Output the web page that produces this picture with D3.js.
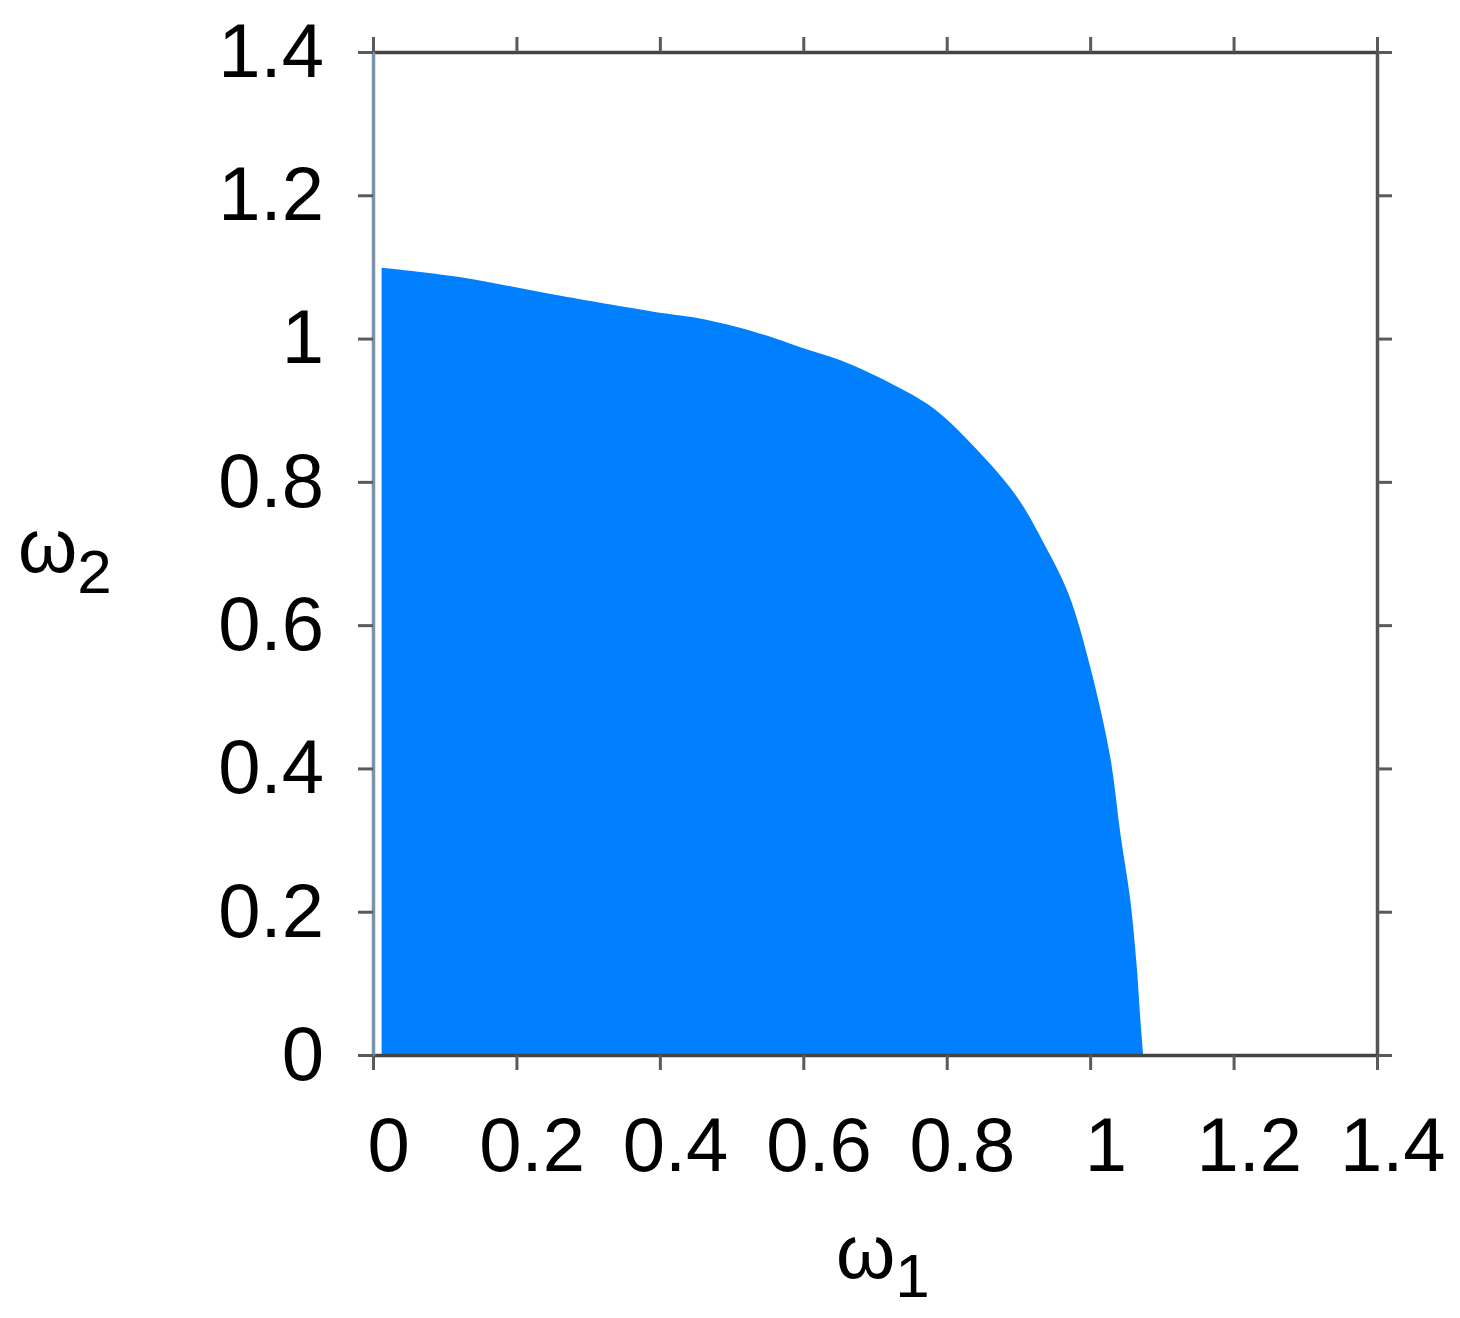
<!DOCTYPE html>
<html>
<head>
<meta charset="utf-8">
<script src="https://cdn.jsdelivr.net/npm/d3@7"></script>
<style>
  body { margin: 0; background: #fff; }
  text { font-family: "Liberation Sans", Arial, sans-serif; fill: #000; }
</style>
</head>
<body>
<div id="chart"></div>
<script>
// boundary of the stable region
var omega1 = [0.012, 0.12, 0.26, 0.40, 0.456, 0.53, 0.596, 0.651, 0.721, 0.781, 0.842, 0.898, 0.935, 0.970, 1.0, 1.028, 1.042, 1.056, 1.065, 1.070, 1.074];
var omega2 = [1.099, 1.086, 1.060, 1.036, 1.028, 1.010, 0.988, 0.970, 0.938, 0.903, 0.845, 0.779, 0.715, 0.643, 0.542, 0.416, 0.310, 0.216, 0.123, 0.05, 0.0];
var tickVals = [0, 0.2, 0.4, 0.6, 0.8, 1, 1.2, 1.4];

var svgWidth = 1460;
var svgHeight = 1318;

var margin = { top: 52, right: 83, bottom: 263, left: 373 };
var width = svgWidth - margin.left - margin.right;
var height = svgHeight - margin.top - margin.bottom;

var svg = d3.select("#chart")
  .append("svg")
  .attr("width", svgWidth)
  .attr("height", svgHeight);

var chartGroup = svg.append("g")
  .attr("transform", `translate(${margin.left}, ${margin.top})`);

var xScale = d3.scaleLinear().domain([0, 1.4]).range([0, width]);
var yScale = d3.scaleLinear().domain([0, 1.4]).range([height, 0]);

var pts = omega1.map((d, i) => [d, omega2[i]]);

var area = d3.area()
  .x(d => xScale(d[0]))
  .y0(yScale(0))
  .y1(d => yScale(d[1]))
  .curve(d3.curveCatmullRom.alpha(0.5));

chartGroup.append("path")
  .datum(pts)
  .attr("d", area)
  .attr("fill", "#0080ff");

var fmt = d => (d === 0 || d === 1) ? String(d) : d.toFixed(1);

function styleAxis(g, domainColor) {
  g.select(".domain").attr("stroke", domainColor).attr("stroke-width", 3.5);
  g.selectAll(".tick line").attr("stroke", "#5a5a5a").attr("stroke-width", 3);
  g.selectAll(".tick text")
    .style("font-size", "76px")
    .style("font-family", "'Liberation Sans', Arial, sans-serif")
    .attr("fill", "#000");
}

// top and right frame
chartGroup.append("g")
  .call(d3.axisTop(xScale).tickValues(tickVals).tickSize(15).tickSizeOuter(0).tickFormat(""))
  .call(g => styleAxis(g, "#444"));

chartGroup.append("g")
  .attr("transform", `translate(${width}, 0)`)
  .call(d3.axisRight(yScale).tickValues(tickVals).tickSize(15).tickSizeOuter(0).tickFormat(""))
  .call(g => styleAxis(g, "#555"));

// bottom axis
var xAxisG = chartGroup.append("g")
  .attr("transform", `translate(0, ${height})`)
  .call(d3.axisBottom(xScale).tickValues(tickVals).tickSize(15).tickSizeOuter(0).tickPadding(47).tickFormat(fmt))
  .call(g => styleAxis(g, "#444"));
xAxisG.selectAll(".tick text").attr("dx", "0.2em");

// left axis
chartGroup.append("g")
  .call(d3.axisLeft(yScale).tickValues(tickVals).tickSize(15).tickSizeOuter(0).tickPadding(34).tickFormat(fmt))
  .call(g => styleAxis(g, "#7a93ad"));

// axis titles
var xt = svg.append("text")
  .attr("x", 836)
  .attr("y", 1278)
  .style("font-size", "76px");
xt.append("tspan").text("ω");
xt.append("tspan").attr("dy", 19).style("font-size", "62px").text("1");

var yt = svg.append("text")
  .attr("x", 18)
  .attr("y", 572)
  .style("font-size", "76px");
yt.append("tspan").text("ω");
yt.append("tspan").attr("dy", 21).style("font-size", "62px").text("2");
</script>
</body>
</html>
